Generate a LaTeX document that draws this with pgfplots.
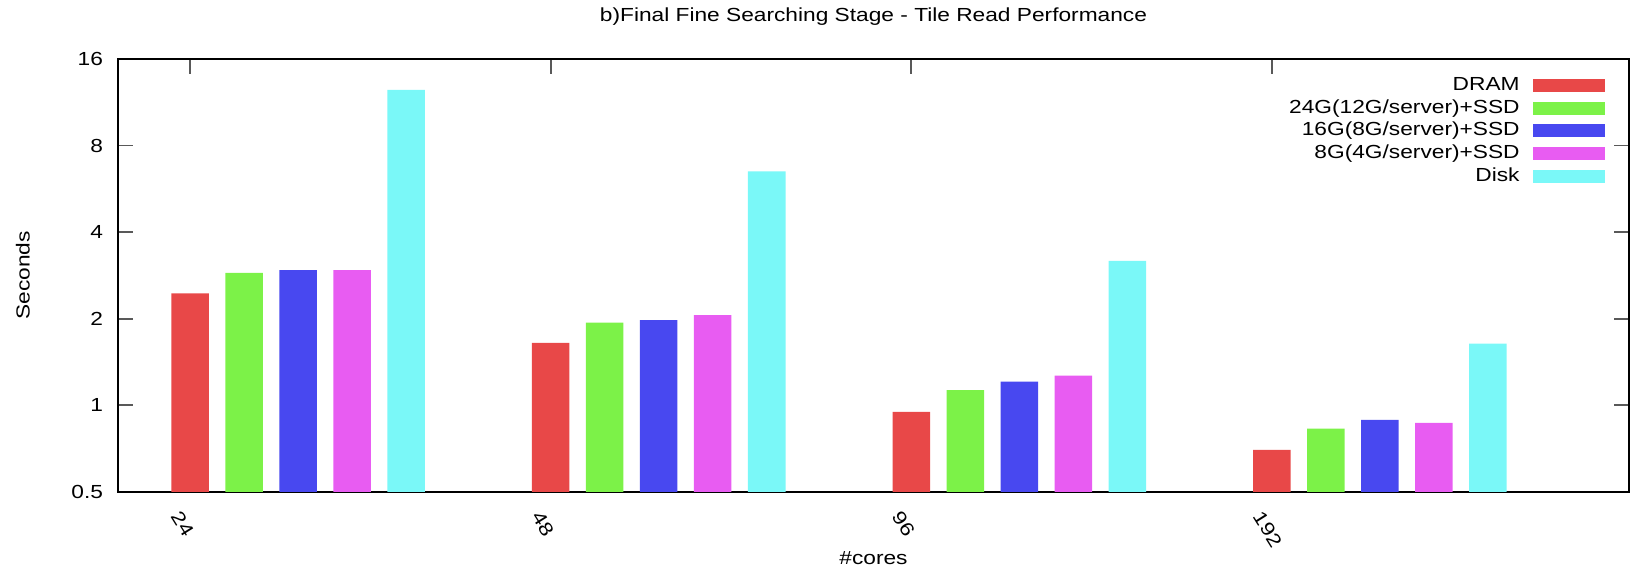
\documentclass[border=0pt]{standalone}
\usepackage{fontspec}
\setmainfont[FakeStretch=1.2]{Liberation Sans}
\usepackage{pgfplots}
\pgfplotsset{compat=1.18}
\usepackage{pgfplotstable}

\definecolor{cDram}{RGB}{232,72,72}
\definecolor{cS24}{RGB}{124,242,72}
\definecolor{cS16}{RGB}{72,72,240}
\definecolor{cS8}{RGB}{232,92,242}
\definecolor{cDisk}{RGB}{122,248,248}

% Tile read time (seconds) per core count
\pgfplotstableread{
x dram s24 s16 s8 disk
0 2.45 2.89 2.95 2.95 12.5
1 1.65 1.94 1.98 2.06 6.51
2 0.95 1.13 1.21 1.27 3.18
3 0.70 0.83 0.89 0.87 1.64
}\tileread

\newcommand\fs{\fontsize{9.5}{11}\selectfont}

\pgfplotsset{
  tilebar/.style={ybar, bar width=18.75bp, bar shift=#1, draw=none,
    legend image code/.code={\fill[##1, draw=none] (0bp,-3.25bp) rectangle (36bp,3.25bp);}},
}

\begin{document}
\begin{tikzpicture}
\begin{axis}[
  name=ax,
  width=755.5bp, height=216.5bp, scale only axis,
  xmin=-0.2, xmax=3.99,
  ymode=log, log basis y=2, ymin=0.5, ymax=16, log origin=infty,
  xtick={0,1,2,3}, xticklabels={24,48,96,192},
  ytick={0.5,1,2,4,8,16}, yticklabels={0.5,1,2,4,8,16},
  yminorticks=false, xminorticks=false,
  tick align=inside, xtick pos=both, ytick pos=both,
  major tick length=7.5bp,
  tick style={gray!70!black, line width=0.9bp},
  axis line style={black, line width=1.1bp},
  tick label style={font=\fs},
  /pgf/number format/assume math mode=true,
  yticklabel style={xshift=-4bp},
  xticklabel style={yshift=-4bp, xshift=-3bp, rotate=-58, anchor=north west},
  title={b)Final Fine Searching Stage - Tile Read Performance},
  title style={font=\fs, at={(rel axis cs:0.5,1)}, anchor=center, yshift=15bp},
  xlabel={\#cores},
  xlabel style={font=\fs, at={(rel axis cs:0.5,0)}, anchor=center, yshift=-33bp},
  ylabel={Seconds},
  ylabel style={font=\fs},
  ylabel shift=14bp,
  legend plot pos=right,
  legend cell align=right,
  legend style={at={(rel axis cs:1,1)}, anchor=north east, xshift=-12bp, yshift=-8bp,
    draw=none, fill=none, font=\fs, inner sep=0pt, row sep=1.35bp, column sep=6bp,
    nodes={inner sep=0.5bp, text height=7bp, text depth=2bp}},
]
\addplot[tilebar=0bp,  fill=cDram] table[x=x, y=dram] {\tileread};
\addplot[tilebar=27bp, fill=cS24]  table[x=x, y=s24]  {\tileread};
\addplot[tilebar=54bp, fill=cS16]  table[x=x, y=s16]  {\tileread};
\addplot[tilebar=81bp, fill=cS8]   table[x=x, y=s8]   {\tileread};
\addplot[tilebar=108bp,fill=cDisk] table[x=x, y=disk] {\tileread};
\legend{DRAM, 24G(12G/server)+SSD, 16G(8G/server)+SSD, 8G(4G/server)+SSD, Disk}
\end{axis}
\path ([xshift=-59bp,yshift=-38bp]ax.south west) rectangle ([xshift=1bp,yshift=29.5bp]ax.north east);
\end{tikzpicture}
\end{document}
